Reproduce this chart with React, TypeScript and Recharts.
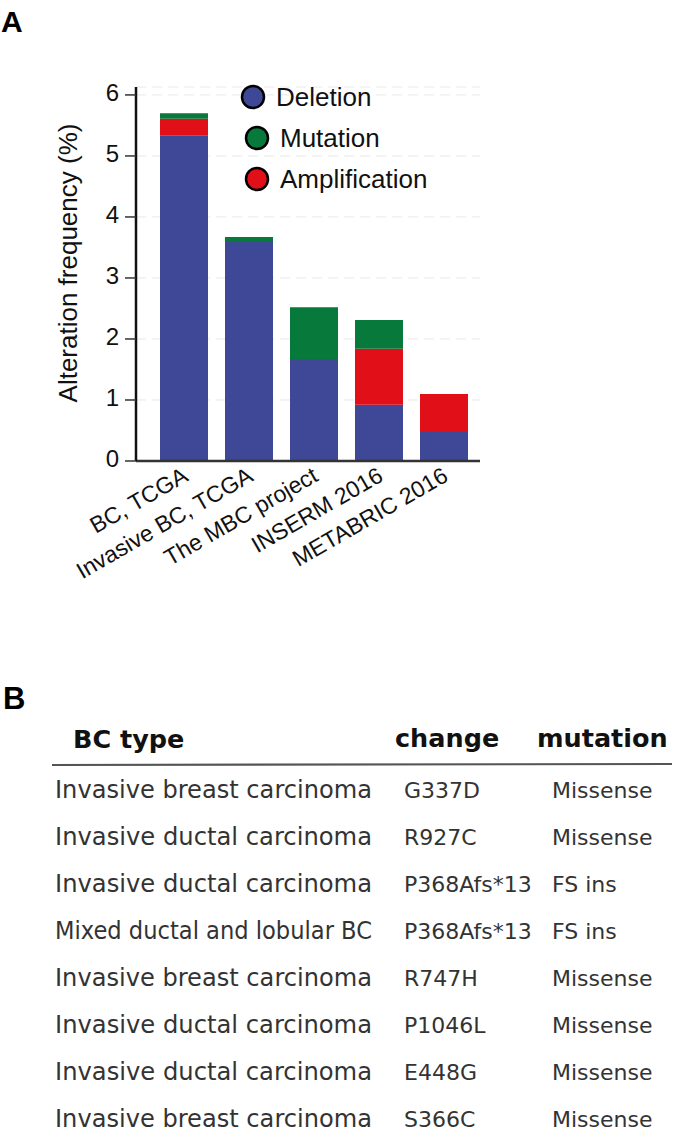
import { Bar, BarChart, CartesianGrid, Legend, XAxis, YAxis } from 'recharts';

const categories = ['BC, TCGA', 'Invasive BC, TCGA', 'The MBC project', 'INSERM 2016', 'METABRIC 2016'];
const deletion = [5.34, 3.59, 1.67, 0.92, 0.49];
const amplification = [0.27, 0, 0, 0.92, 0.61];
const mutation = [0.09, 0.08, 0.85, 0.47, 0];
const yTicks = [0, 1, 2, 3, 4, 5, 6];

const legendOrder = ['Deletion', 'Mutation', 'Amplification'];

const bcTypes = [
  'Invasive breast carcinoma',
  'Invasive ductal carcinoma',
  'Invasive ductal carcinoma',
  'Mixed ductal and lobular BC',
  'Invasive breast carcinoma',
  'Invasive ductal carcinoma',
  'Invasive ductal carcinoma',
  'Invasive breast carcinoma',
];
const changes = ['G337D', 'R927C', 'P368Afs*13', 'P368Afs*13', 'R747H', 'P1046L', 'E448G', 'S366C'];
const mutationTypes = ['Missense', 'Missense', 'FS ins', 'FS ins', 'Missense', 'Missense', 'Missense', 'Missense'];

const colors: Record<string, string> = {
  Deletion: '#3e4896',
  Mutation: '#077a3b',
  Amplification: '#e10f18',
};

const data = categories.map((name, i) => ({
  name,
  deletion: deletion[i],
  amplification: amplification[i],
  mutation: mutation[i],
}));

const FONT = '"Liberation Sans", Arial, sans-serif';
const TABLE_FONT = '"DejaVu Sans", Verdana, sans-serif';

function XTick({ x, y, payload }: any) {
  return (
    <g transform={`translate(${x + 6},${y + 19})`}>
      <text textAnchor="end" transform="rotate(-30)" fontSize={23} fontFamily={FONT} fill="#111">
        {payload.value}
      </text>
    </g>
  );
}

function YTick({ x, y, payload }: any) {
  return (
    <text x={x} y={y - 3} dy="0.36em" textAnchor="end" fontSize={24} fontFamily={FONT} fill="#111">
      {payload.value}
    </text>
  );
}

function YLabel({ viewBox }: any) {
  const cx = viewBox.x + 1;
  const cy = viewBox.y + viewBox.height / 2 - 11;
  return (
    <text
      x={cx}
      y={cy}
      transform={`rotate(-90, ${cx}, ${cy})`}
      textAnchor="middle"
      fontSize={26}
      fontFamily={FONT}
      fill="#111"
    >
      Alteration frequency (%)
    </text>
  );
}

function LegendBox() {
  return (
    <svg width={230} height={130}>
      {legendOrder.map((name, i) => (
        <g key={name}>
          <circle cx={19 + (i > 0 ? 4 : 0)} cy={17 + 41 * i} r={11} fill={colors[name]} stroke="#000" strokeWidth={2.5} />
          <text x={42 + (i > 0 ? 4 : 0)} y={26 + 41 * i} fontSize={26} fontFamily={FONT} fill="#111">
            {name}
          </text>
        </g>
      ))}
    </svg>
  );
}

export default function App() {
  const rowTop = 798;
  const rowStep = 47;
  return (
    <div style={{ position: 'absolute', left: 0, top: 0, width: 673, height: 1138, background: '#fff' }}>
      <BarChart width={673} height={620} data={data} margin={{ top: 87, right: 193, bottom: 99, left: 76 }}>
        <CartesianGrid vertical={false} stroke="#e8e8e8" strokeDasharray="10 6" />
        <XAxis
          dataKey="name"
          interval={0}
          height={60}
          padding={{ left: 15, right: 4 }}
          tick={<XTick />}
          tickLine={false}
          tickSize={0}
          tickMargin={0}
          axisLine={{ stroke: '#333', strokeWidth: 2.5 }}
        />
        <YAxis
          width={60}
          domain={[0, 6.13]}
          ticks={yTicks}
          interval={0}
          tick={<YTick />}
          tickSize={11}
          tickMargin={6}
          tickLine={{ stroke: '#333', strokeWidth: 1.5 }}
          axisLine={{ stroke: '#111', strokeWidth: 2.5 }}
          label={<YLabel />}
        />
        <Legend
          layout="vertical"
          align="center"
          verticalAlign="middle"
          content={() => <LegendBox />}
          wrapperStyle={{ position: 'absolute', left: 234, top: 80, width: 230, height: 130 }}
        />
        <Bar dataKey="deletion" stackId="a" fill={colors.Deletion} barSize={48} isAnimationActive={false} />
        <Bar dataKey="amplification" stackId="a" fill={colors.Amplification} barSize={48} isAnimationActive={false} />
        <Bar dataKey="mutation" stackId="a" fill={colors.Mutation} barSize={48} isAnimationActive={false} />
      </BarChart>

      <svg width={673} height={1138} style={{ position: 'absolute', left: 0, top: 0, pointerEvents: 'none' }}>
        <text x={1} y={32} fontSize={30} fontWeight="bold" fontFamily={FONT} fill="#000">A</text>
        <text x={3} y={709} fontSize={31} fontWeight="bold" fontFamily={FONT} fill="#000">B</text>

        <g fontFamily={TABLE_FONT} fontWeight="bold" fontSize={25.5} fill="#111">
          <text x={73} y={748}>BC type</text>
          <text x={395} y={747}>change</text>
          <text x={537} y={747}>mutation</text>
        </g>
        <line x1={52} y1={765} x2={672} y2={764} stroke="#555" strokeWidth={2.2} />

        <g fontFamily={TABLE_FONT} fill="#333">
          {bcTypes.map((t, i) => (
            <g key={i}>
              <text x={55} y={rowTop + rowStep * i} fontSize={24} textLength={317} lengthAdjust="spacingAndGlyphs">
                {t}
              </text>
              <text x={404} y={rowTop + rowStep * i} fontSize={22}>
                {changes[i]}
              </text>
              <text x={552} y={rowTop + rowStep * i} fontSize={22}>
                {mutationTypes[i]}
              </text>
            </g>
          ))}
        </g>
      </svg>
    </div>
  );
}
